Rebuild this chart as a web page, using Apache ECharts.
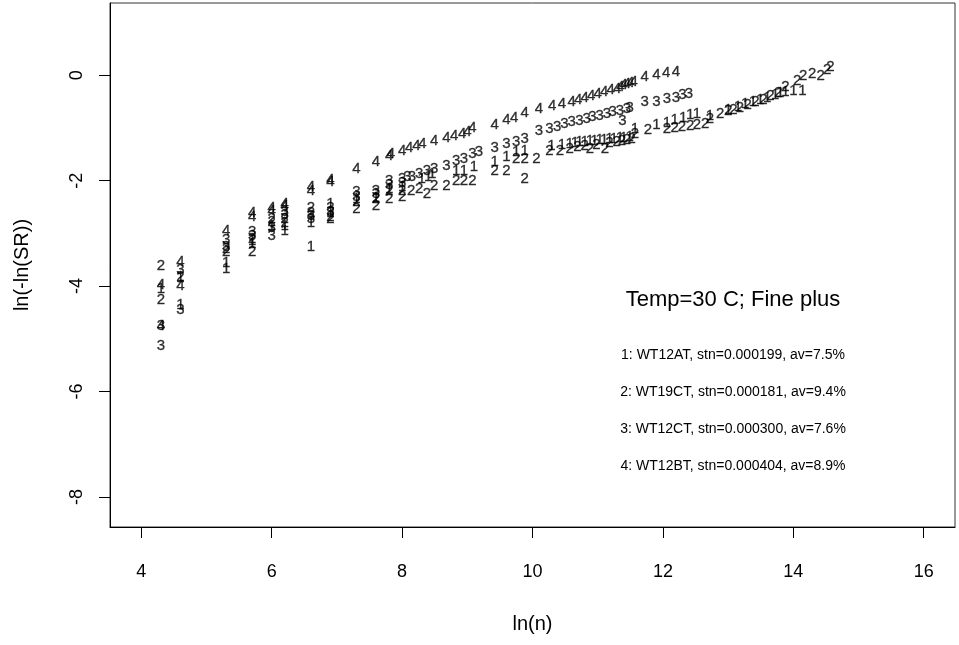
<!DOCTYPE html>
<html><head><meta charset="utf-8">
<script src="https://cdn.jsdelivr.net/npm/echarts@6/dist/echarts.min.js"></script>
<style>html,body{margin:0;padding:0;background:#fff}#c{width:959px;height:645px}</style>
</head><body><div id="c"></div>
<script>
// ---- data ----
const xTicks = [4, 6, 8, 10, 12, 14, 16];
const yTicks = [-8, -6, -4, -2, 0];
const xName = 'ln(n)';
const yName = 'ln(-ln(SR))';
const seriesLabels = ['1', '2', '3', '4'];

const s1x = [4.3,4.6,4.6,5.3,5.3,5.7,5.7,6.0,6.2,6.2,6.6,6.6,6.9,6.9,7.3,7.6,7.8,8.0,8.3,8.4,8.46,8.83,8.95,9.1,9.42,9.6,9.75,9.88,10.29,10.45,10.57,10.65,10.72,10.8,10.88,10.95,11.03,11.1,11.18,11.25,11.34,11.4,11.49,11.57,11.9,12.06,12.18,12.31,12.42,12.52,12.72,13.0,13.15,13.26,13.38,13.49,13.6,13.72,13.8,13.88,14.0,14.14];
const s1y = [-4.05,-3.85,-4.35,-3.55,-3.67,-3.15,-3.2,-2.85,-2.85,-2.95,-2.8,-3.25,-2.44,-2.62,-2.35,-2.32,-2.15,-2.12,-1.97,-1.93,-1.87,-1.81,-1.81,-1.74,-1.64,-1.55,-1.46,-1.44,-1.34,-1.32,-1.3,-1.28,-1.27,-1.26,-1.25,-1.24,-1.23,-1.22,-1.21,-1.2,-1.19,-1.18,-1.17,-1.02,-0.95,-0.9,-0.85,-0.8,-0.76,-0.74,-0.78,-0.66,-0.6,-0.55,-0.5,-0.46,-0.42,-0.37,-0.34,-0.32,-0.3,-0.3];

const s2x = [4.3,4.3,4.6,5.3,5.3,5.7,5.7,6.0,6.0,6.2,6.2,6.6,6.6,6.9,6.9,7.3,7.3,7.6,7.6,7.8,7.8,8.0,8.0,8.14,8.26,8.38,8.49,8.68,8.83,8.95,9.08,9.42,9.6,9.75,9.88,9.88,10.06,10.26,10.42,10.57,10.69,10.8,10.88,10.98,11.11,11.18,11.29,11.37,11.45,11.52,11.57,11.77,12.06,12.18,12.29,12.42,12.52,12.65,12.72,12.88,13.0,13.08,13.18,13.3,13.42,13.54,13.65,13.77,13.88,14.06,14.15,14.29,14.42,14.52,14.57];
const s2y = [-3.61,-4.27,-3.82,-3.3,-3.35,-3.1,-3.35,-2.72,-2.78,-2.72,-2.8,-2.52,-2.62,-2.68,-2.72,-2.4,-2.53,-2.35,-2.48,-2.2,-2.34,-2.2,-2.3,-2.19,-2.16,-2.25,-2.1,-2.1,-2.0,-2.0,-2.0,-1.81,-1.81,-1.59,-1.59,-1.97,-1.59,-1.44,-1.44,-1.4,-1.36,-1.34,-1.4,-1.32,-1.4,-1.29,-1.27,-1.25,-1.23,-1.21,-1.12,-1.04,-1.02,-1.0,-0.98,-0.96,-0.94,-0.93,-0.82,-0.74,-0.68,-0.65,-0.61,-0.56,-0.51,-0.46,-0.4,-0.34,-0.22,-0.11,-0.02,0.02,-0.02,0.11,0.15];

const s3x = [4.3,4.3,4.6,4.6,5.3,5.3,5.7,5.7,6.0,6.0,6.2,6.2,6.6,6.6,6.9,6.9,7.3,7.3,7.6,7.6,7.8,7.8,8.0,8.0,8.08,8.15,8.26,8.38,8.49,8.68,8.83,8.95,9.08,9.18,9.42,9.6,9.75,9.88,10.1,10.26,10.38,10.49,10.6,10.72,10.83,10.92,11.03,11.14,11.23,11.34,11.38,11.45,11.49,11.72,11.9,12.06,12.2,12.3,12.4];
const s3y = [-4.76,-5.14,-3.7,-4.45,-3.13,-3.25,-2.97,-3.05,-2.9,-3.05,-2.59,-2.65,-2.67,-2.72,-2.52,-2.6,-2.21,-2.3,-2.19,-2.25,-2.0,-2.08,-1.97,-2.05,-1.93,-1.93,-1.87,-1.81,-1.78,-1.72,-1.62,-1.59,-1.49,-1.46,-1.38,-1.30,-1.27,-1.21,-1.06,-1.02,-0.98,-0.93,-0.89,-0.87,-0.83,-0.79,-0.78,-0.74,-0.70,-0.68,-0.87,-0.64,-0.62,-0.51,-0.51,-0.45,-0.42,-0.38,-0.36];

const s4x = [4.3,4.3,4.6,4.6,5.3,5.7,5.7,6.0,6.0,6.2,6.2,6.6,6.6,6.9,6.9,7.3,7.6,7.8,7.83,8.0,8.11,8.22,8.31,8.49,8.68,8.8,8.92,9.0,9.08,9.42,9.6,9.72,9.88,10.1,10.3,10.45,10.6,10.7,10.8,10.9,11.0,11.1,11.2,11.3,11.35,11.4,11.45,11.5,11.55,11.72,11.9,12.05,12.2];
const s4y = [-3.97,-4.76,-3.54,-4.0,-2.95,-2.62,-2.68,-2.52,-2.57,-2.44,-2.48,-2.12,-2.2,-1.98,-2.02,-1.78,-1.65,-1.53,-1.49,-1.44,-1.38,-1.34,-1.30,-1.25,-1.19,-1.15,-1.12,-1.08,-1.0,-0.95,-0.85,-0.81,-0.72,-0.64,-0.59,-0.55,-0.51,-0.47,-0.43,-0.40,-0.36,-0.32,-0.28,-0.25,-0.23,-0.19,-0.17,-0.15,-0.13,-0.04,0.0,0.04,0.06];

const noteTitle = 'Temp=30 C; Fine plus';
const noteLines = [
  '1: WT12AT, stn=0.000199, av=7.5%',
  '2: WT19CT, stn=0.000181, av=9.4%',
  '3: WT12CT, stn=0.000300, av=7.6%',
  '4: WT12BT, stn=0.000404, av=8.9%'
];

// ---- chart ----
const FONT = '"Liberation Sans", Arial, Helvetica, sans-serif';
const chart = echarts.init(document.getElementById('c'), null, {renderer: 'canvas'});

function mk(xs, ys, lab) {
  return {
    type: 'scatter',
    data: xs.map((x, i) => [x, ys[i]]),
    symbolSize: 1,
    itemStyle: {color: 'rgba(0,0,0,0)'},
    label: {show: true, position: 'inside', formatter: lab, color: '#000',
            fontSize: 15, fontFamily: FONT,
            textBorderColor: '#000', textBorderWidth: 0.3},
    emphasis: {disabled: true},
    silent: true,
    z: 3
  };
}
const allX = [s1x, s2x, s3x, s4x];
const allY = [s1y, s2y, s3y, s4y];
const series = seriesLabels.map((l, i) => mk(allX[i], allY[i], l));

const graphics = [{
  type: 'text', x: 733, y: 300,
  style: {text: noteTitle, fill: '#000', font: '22px ' + FONT,
          textAlign: 'center', textVerticalAlign: 'middle', align: 'center', verticalAlign: 'middle'}
}];
noteLines.forEach((t, i) => graphics.push({
  type: 'text', x: 733, y: 355 + i * 37,
  style: {text: t, fill: '#000', font: '14px ' + FONT,
          textAlign: 'center', textVerticalAlign: 'middle', align: 'center', verticalAlign: 'middle'}
}));

chart.setOption({
  animation: false,
  backgroundColor: '#fff',
  grid: {left: 110, right: 4, top: 3, bottom: 118, show: true,
         borderColor: '#333', borderWidth: 1, backgroundColor: 'transparent'},
  xAxis: {
    type: 'value', min: 3.52, max: 16.48,
    name: xName, nameLocation: 'middle', nameGap: 87,
    nameTextStyle: {fontSize: 20, fontFamily: FONT, color: '#000'},
    axisLine: {show: true, onZero: false, lineStyle: {color: '#000'}},
    axisTick: {show: true, length: 11, inside: false, customValues: xTicks, lineStyle: {color: '#000'}},
    axisLabel: {show: true, customValues: xTicks, margin: 36, fontSize: 18, fontFamily: FONT, color: '#000'},
    splitLine: {show: false}
  },
  yAxis: {
    type: 'value', min: -8.57, max: 1.37,
    name: yName, nameLocation: 'middle', nameGap: 78, nameRotate: 90,
    nameTextStyle: {fontSize: 20, fontFamily: FONT, color: '#000'},
    axisLine: {show: true, onZero: false, lineStyle: {color: '#000'}},
    axisTick: {show: true, length: 11, inside: false, customValues: yTicks, lineStyle: {color: '#000'}},
    axisLabel: {show: true, customValues: yTicks, rotate: 90, margin: 24, fontSize: 18, fontFamily: FONT, color: '#000'},
    splitLine: {show: false}
  },
  graphic: graphics,
  series: series
});
</script></body></html>
